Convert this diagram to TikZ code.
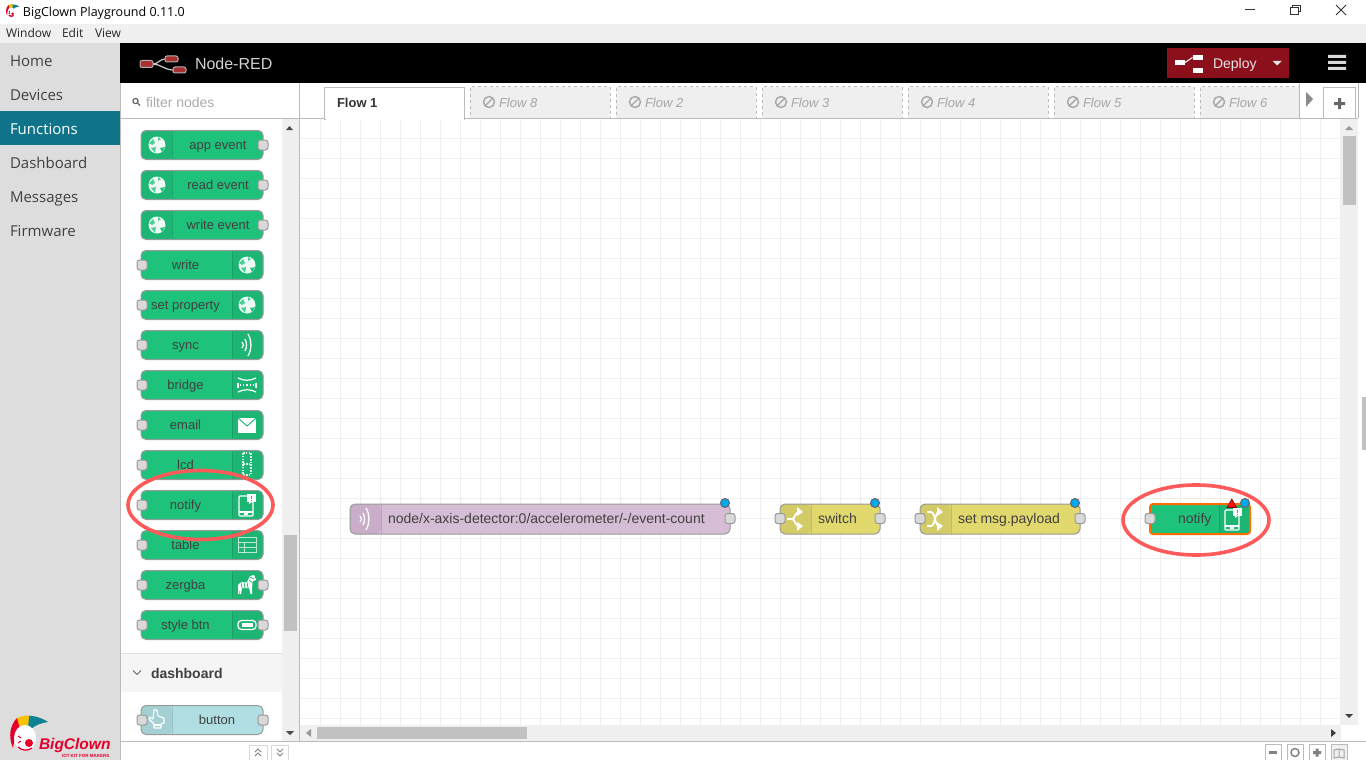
\documentclass[tikz,border=0pt]{standalone}
\usepackage{fontspec}
\setmainfont{Liberation Sans}
\newfontfamily\uifont{Open Sans}
\usetikzlibrary{shapes.geometric}
\definecolor{sidegray}{HTML}{DDDDDD}
\definecolor{sideteal}{HTML}{0F7489}
\definecolor{barlight}{HTML}{F0F0F0}
\definecolor{gridline}{HTML}{EFEFEF}
\definecolor{rulegray}{HTML}{BBBBBB}
\definecolor{thumbgray}{HTML}{C1C1C1}
\definecolor{nodeedge}{HTML}{999999}
\definecolor{portfill}{HTML}{D9D9D9}
\definecolor{green}{HTML}{1FC27B}
\definecolor{greentint}{HTML}{1DB574}
\definecolor{mauve}{HTML}{D6BDD6}
\definecolor{mauvetint}{HTML}{C9ADC9}
\definecolor{sand}{HTML}{E2D96E}
\definecolor{sandtint}{HTML}{D3CB67}
\definecolor{skyblue}{HTML}{B0DFE3}
\definecolor{skytint}{HTML}{A4D0D4}
\definecolor{deployred}{HTML}{8C101C}
\definecolor{logored}{HTML}{A83232}
\definecolor{markred}{HTML}{FF5A5A}
\definecolor{dotblue}{HTML}{00A8F0}
\definecolor{clownred}{HTML}{E4002B}
\definecolor{clownteal}{HTML}{0E8292}
\definecolor{clownyellow}{HTML}{F9C200}
\begin{document}
\begin{tikzpicture}[x=1pt,y=-1pt,line width=1pt,every node/.style={outer sep=0pt}]
	\tikzset{sidelabel/.style = {anchor=west,inner sep=0pt,text=black!75,text height=13pt,text depth=1pt,font=\uifont\fontsize{15}{18}\selectfont}}
	\tikzset{menulabel/.style = {anchor=west,inner sep=0pt,text=black!85,text height=11pt,text depth=1.6pt,font=\uifont\fontsize{12}{14}\selectfont}}
	\tikzset{paltext/.style = {inner sep=0pt,text=black!75,text height=10pt,text depth=1pt,font=\fontsize{13}{15}\selectfont}}
	\tikzset{flowtext/.style = {anchor=west,inner sep=0pt,text=black!75,text height=11pt,text depth=1pt,font=\fontsize{14}{16}\selectfont}}
	\tikzset{tabtext/.style = {anchor=west,inner sep=0pt,text=black!35,text height=12.4pt,text depth=1pt,font=\itshape\fontsize{13}{15}\selectfont}}
	\tikzset{blockbox/.style = {draw=nodeedge,rounded corners=5pt,minimum height=29pt,inner sep=0pt}}
	\tikzset{palbox/.style = {blockbox,fill=green,minimum width=122pt}}
	\tikzset{iconright/.style = {path picture={
		\fill[#1] ([xshift=-31pt]path picture bounding box.north east) rectangle (path picture bounding box.south east);
		\draw[black,line width=.6pt,opacity=.12] ([xshift=-31pt]path picture bounding box.north east) -- ([xshift=-31pt]path picture bounding box.south east);}}}
	\tikzset{iconleft/.style = {path picture={
		\fill[#1] (path picture bounding box.north west) rectangle ([xshift=31pt]path picture bounding box.south west);
		\draw[black,line width=.6pt,opacity=.12] ([xshift=31pt]path picture bounding box.north west) -- ([xshift=31pt]path picture bounding box.south west);}}}
	\tikzset{port/.style = {draw=nodeedge,fill=portfill,rounded corners=2.5pt,minimum size=10pt,inner sep=0pt}}
	\tikzset{statusdot/.style = {circle,draw=black!60,fill=dotblue,minimum size=9pt,inner sep=0pt}}
	\tikzset{flowtab/.style = {draw=rulegray,dashed,fill=gridline,anchor=north west,minimum width=140pt,minimum height=31pt,inner sep=0pt}}
	\tikzset{ctrlbtn/.style = {draw=rulegray,fill=white,anchor=north west,minimum width=16pt,minimum height=16pt,inner sep=0pt}}
	\tikzset{redmark/.style = {ellipse,draw=markred,line width=3.6pt,inner sep=0pt}}
	\tikzset{earth/.pic = {
		\fill[white,opacity=.92] (0,0) circle[radius=8.5pt];
		\fill[green!80!white] (-8,-2) -- (-4,-6) -- (-2,-2) -- (-5,0) -- cycle;
		\fill[green!80!white] (-6,3) -- (-1,2) -- (-2,8) -- cycle;
		\fill[green] (3,3) -- (8,2) -- (5,7) -- cycle;
		\fill[green!80!white] (1,-8) -- (4,-6) -- (1,-4) -- cycle;}}
	\tikzset{waves/.pic = {
		\draw[white,line width=1.3pt] (-5,-3) .. controls (-3,-1) and (-3,1) .. (-5,3);
		\draw[white,line width=1.3pt] (-2,-6) .. controls (0,-2) and (0,2) .. (-2,6);
		\draw[white,line width=1.3pt] (1,-11) .. controls (5,-4) and (5,4) .. (1,11);}}
	\tikzset{span/.pic = {
		\draw[white,line width=1.2pt] (-9,-7) .. controls (-3,-4) and (3,-4) .. (9,-7);
		\draw[white,line width=1.2pt] (-9,7) .. controls (-3,4) and (3,4) .. (9,7);
		\draw[white,dotted,line width=1.2pt] (-7,0) -- (7,0);
		\draw[white,line width=1.4pt] (-9,-2.5) -- (-9,2.5) (9,-2.5) -- (9,2.5);}}
	\tikzset{letter/.pic = {
		\fill[white] (-9,-7.5) rectangle (9,7.5);
		\draw[green,line width=1pt] (-9,-7) -- (0,1) -- (9,-7);}}
	\tikzset{segments/.pic = {
		\draw[white,dash pattern=on 1.6pt off 1.2pt,line width=1.1pt,opacity=.85] (-4,-12) rectangle (4,-1);
		\draw[white,dash pattern=on 1.6pt off 1.2pt,line width=1.1pt,opacity=.85] (-4,-1) -- (-4,10) -- (4,10) -- (4,-1);}}
	\tikzset{phone/.pic = {
		\draw[white,line width=1.1pt,rounded corners=1pt] (-8,-9) rectangle (6,11);
		\draw[white,line width=1.1pt] (-8,7) -- (6,7) (-3,9) -- (1,9);
		\fill[white] (0,-11) rectangle (9,-3);
		\fill[white] (2,-3) -- (5,-3) -- (2,-1) -- cycle;
		\draw[green,line width=1pt] (4.5,-9.5) -- (4.5,-6) (4.5,-5.2) -- (4.5,-4.4);}}
	\tikzset{sheet/.pic = {
		\draw[white,line width=1pt,opacity=.7] (-9,-7.5) rectangle (9,7.5);
		\draw[white,line width=1pt,opacity=.7] (-9,-3) -- (9,-3) (-9,2) -- (9,2) (-3,-3) -- (-3,7.5);}}
	\tikzset{zebra/.pic = {
		\fill[white] (-9,9) -- (-9,0) -- (-6,-3) -- (0,-3) -- (3,-9) -- (7,-10) -- (9,-5) -- (6,-4) -- (5,2) -- (5,9) -- (3.5,9) -- (2,3) -- (-5,3) -- (-6,9) -- (-7,9) -- (-7.5,3) -- (-8,9) -- cycle;
		\draw[green,line width=.8pt] (-6,-3) -- (-5,3) (-3,-3) -- (-2,3) (0,-3) -- (1,3) (2,-5) -- (6,-2) (3,-8) -- (7,-6);}}
	\tikzset{pill/.pic = {
		\draw[white,line width=1.2pt,rounded corners=3.5pt] (-9,-4.5) rectangle (9,4.5);
		\fill[white] (-5.5,-1.7) rectangle (5.5,1.7);}}
	\tikzset{hand/.pic = {
		\draw[white,line width=1.1pt,line join=round] (-3,8) -- (-3,4) -- (-8,-1) -- (-7,-3) -- (-4,-1) -- (-3,-10) -- (0,-10) -- (1,-4) -- (7,-2) -- (7,3) -- (4,4) -- (4,8) -- cycle;
		\draw[white,line width=1.1pt] (-3,5) -- (4,5);}}
	\tikzset{branch/.pic = {
		\draw[white,line width=1.8pt] (-8,0) -- (-3,0) .. controls (0,0) and (0,-7) .. (4,-7);
		\draw[white,line width=1.8pt] (-3,0) .. controls (0,0) and (0,7) .. (4,7);
		\fill[white] (2,-12) -- (8,-7) -- (2,-3) -- cycle;
		\fill[white] (2,3) -- (8,7) -- (2,12) -- cycle;}}
	\tikzset{shuffle/.pic = {
		\draw[white,line width=1.8pt] (-8,-7) -- (-4,-7) .. controls (0,-7) and (0,7) .. (4,7);
		\draw[white,line width=1.8pt] (-8,7) -- (-4,7) .. controls (0,7) and (0,-7) .. (4,-7);
		\fill[white] (2,-12) -- (8,-7) -- (2,-3) -- cycle;
		\fill[white] (2,3) -- (8,7) -- (2,12) -- cycle;}}
	\tikzset{nope/.pic = {
		\draw[black!35,line width=1.4pt] (0,0) circle[radius=5.5pt];
		\draw[black!35,line width=1.4pt] (-3.8,3.8) -- (3.8,-3.8);}}
	\tikzset{clown/.pic = {
		\fill[clownteal] (15,1) .. controls (24,0) and (32,3) .. (38,7) .. controls (31,8) and (25,10) .. (20,15) -- cycle;
		\fill[clownyellow] (6,4) .. controls (10,1) and (15,0) .. (19,1) -- (18,13) -- (9,14) -- cycle;
		\fill[clownred] (3,33) .. controls (-2,22) and (0,10) .. (7,3) -- (10,14) -- (5,22) -- cycle;
		\fill[white] (15,23) ellipse[x radius=11pt,y radius=13pt];
		\fill[clownred] (19,28) circle[radius=4pt];
		\draw[clownred,line width=1pt] (8,21) -- (11,23) (8,28) -- (11,26);
		\draw[clownred,line width=1.3pt] (8,32) .. controls (12,36) and (18,36) .. (22,33);}}

	\useasboundingbox (0,0) rectangle (1366,760);
	% window frame
	\fill[white] (0,0) rectangle (1366,760);
	\fill[barlight] (0,24) rectangle (1366,43);
	\pic[scale=.35] at (6,4) {clown};
	\node[menulabel,font=\uifont\fontsize{12.5}{15}\selectfont,text=black] (apptitle) at (23,12) {BigClown Playground 0.11.0};
	\node[menulabel] (menuwindow) at (6,33) {Window};
	\node[menulabel] (menuedit) at (62,33) {Edit};
	\node[menulabel] (menuview) at (95,33) {View};
	\draw[black!80] (1245,10) -- (1255,10);
	\draw[black!80] (1290.5,8) rectangle (1298.5,14.5) (1292.5,8) -- (1292.5,5.5) -- (1300,5.5) -- (1300,12) -- (1298.5,12);
	\draw[black!80] (1336,5) -- (1346,15) (1346,5) -- (1336,15);

	% left menu
	\fill[sidegray] (0,43) rectangle (120,760);
	\draw[rulegray] (120.5,83) -- (120.5,760);
	\fill[sideteal] (0,111) rectangle (120,145);
	\node[sidelabel] (home) at (10,60.5) {Home};
	\node[sidelabel] (devices) at (10,94.5) {Devices};
	\node[sidelabel,text=white] (functions) at (10,128.5) {Functions};
	\node[sidelabel] (dashboard) at (10,162.5) {Dashboard};
	\node[sidelabel] (messages) at (10,196.5) {Messages};
	\node[sidelabel] (firmware) at (10,230.5) {Firmware};
	\pic at (10,715) {clown};
	\node[anchor=west,inner sep=0pt,text=clownred,font=\bfseries\itshape\fontsize{15.5}{18}\selectfont] (logotext) at (39,745) {BigClown};
	\node[anchor=west,inner sep=0pt,text=clownred,font=\bfseries\fontsize{4.5}{5}\selectfont] (logosub) at (62,755.5) {IOT KIT FOR MAKERS};

	% header
	\fill[black] (120,43) rectangle (1366,83);
	\draw[white!80!black,line width=1.2pt] (153,64) .. controls (158,64) and (160,59) .. (165,59);
	\draw[white!80!black,line width=1.2pt] (153,64) .. controls (160,64) and (165,70) .. (173,70);
	\node[draw=white!70!black,fill=logored,rounded corners=2pt,minimum width=13pt,minimum height=7pt,inner sep=0pt] (logoa) at (146.5,64) {};
	\node[draw=white!70!black,fill=logored,rounded corners=2pt,minimum width=13pt,minimum height=6pt,inner sep=0pt] (logob) at (171.5,59) {};
	\node[draw=white!70!black,fill=logored,rounded corners=2pt,minimum width=13pt,minimum height=6pt,inner sep=0pt] (logoc) at (179.5,70) {};
	\node[anchor=west,inner sep=0pt,text=white!82!black,text height=13pt,text depth=1pt,font=\fontsize{16}{18}\selectfont] (nodered) at (195,64) {Node-RED};
	\node[fill=deployred,anchor=north west,minimum width=122pt,minimum height=30pt,inner sep=0pt] (deploybtn) at (1167,48) {};
	\node[fill=white,minimum width=10pt,minimum height=5pt,inner sep=0pt] (depa) at (1180,62.5) {};
	\node[fill=white,minimum width=10pt,minimum height=5pt,inner sep=0pt] (depb) at (1197.5,57.5) {};
	\node[fill=white,minimum width=10pt,minimum height=5pt,inner sep=0pt] (depc) at (1197.5,70.5) {};
	\draw[white] (depa.east) -- (depb.west);
	\node[anchor=west,inner sep=0pt,text=white!90!black,text height=11.6pt,text depth=1pt,font=\fontsize{14}{16}\selectfont] (deploy) at (1213,63) {Deploy};
	\fill[white!90!black] (1272.5,61) -- (1281.5,61) -- (1277,65.5) -- cycle;
	\fill[white!85!black] (1328,55) rectangle (1346,58) (1328,61) rectangle (1346,64) (1328,67) rectangle (1346,70);

	% palette
	\draw[rulegray] (121,118.5) -- (300,118.5);
	\draw[rulegray] (299.5,83) -- (299.5,741);
	\draw[black!60,line width=1.2pt] (135.5,101) circle[radius=2.6pt] (137.5,103) -- (140,105.5);
	\node[anchor=west,inner sep=0pt,text=black!33,text height=12.4pt,text depth=1pt,font=\fontsize{14}{16}\selectfont] (filter) at (146,102) {filter nodes};
	\fill[barlight] (282,119) rectangle (299,741);
	\fill[thumbgray] (284,535) rectangle (297,631);
	\fill[black!70] (286,130) -- (293,130) -- (289.5,126) -- cycle;
	\fill[black!70] (286,731) -- (294,731) -- (290,735) -- cycle;
	\foreach \name/\ypos/\txt in {appevent/145/app event,readevent/185/read event,writeevent/225/write event} {
		\node[palbox,iconleft=greentint] (\name) at (202,\ypos) {};
		\node[paltext] (\name text) at (218,\ypos) {\txt};
		\pic at (157,\ypos) {earth};
		\node[port] (\name out) at (263,\ypos) {};
	}
	\foreach \name/\ypos/\txt/\icn in {write/265/write/earth,setprop/305/set property/earth,sync/345/sync/waves,bridge/385/bridge/span,email/425/email/letter,lcd/465/lcd/segments,notifypal/505/notify/phone,tablepal/545/table/sheet} {
		\node[palbox,iconright=greentint] (\name) at (202,\ypos) {};
		\node[paltext] (\name text) at (185.5,\ypos) {\txt};
		\pic at (247,\ypos) {\icn};
		\node[port] (\name in) at (142,\ypos) {};
	}
	\foreach \name/\ypos/\txt/\icn in {zergba/585/zergba/zebra,stylebtn/625/style btn/pill} {
		\node[palbox,iconright=greentint] (\name) at (202,\ypos) {};
		\node[paltext] (\name text) at (185.5,\ypos) {\txt};
		\pic at (247,\ypos) {\icn};
		\node[port] (\name in) at (142,\ypos) {};
		\node[port] (\name out) at (263,\ypos) {};
	}
	\fill[white!96!black] (121,654) rectangle (282,692);
	\draw[white!88!black] (121,653.5) -- (282,653.5);
	\draw[black!60] (133,670.5) -- (137,674.5) -- (141,670.5);
	\node[anchor=west,inner sep=0pt,text=black!75,text height=12pt,text depth=1.4pt,font=\bfseries\fontsize{14}{16}\selectfont] (dashgroup) at (151,673) {dashboard};
	\node[palbox,fill=skyblue,iconleft=skytint] (buttonpal) at (202,720) {};
	\node[paltext] (buttonpal text) at (217,720) {button};
	\pic at (157,720) {hand};
	\node[port] (buttonpal in) at (142,720) {};
	\node[port] (buttonpal out) at (263,720) {};
	\draw[rulegray] (121,741.5) -- (1366,741.5);
	\node[ctrlbtn,minimum width=17.5pt,minimum height=16pt,draw=white!85!black] (collapse) at (249.5,745.5) {};
	\node[ctrlbtn,minimum width=16.5pt,minimum height=16pt,draw=white!85!black] (expand) at (271.5,745.5) {};
	\draw[black!50] (255,752) -- (258,749) -- (261,752) (255,756) -- (258,753) -- (261,756);
	\draw[black!50] (277,749) -- (280,752) -- (283,749) (277,753) -- (280,756) -- (283,753);

	% workspace grid
	\foreach \xpos in {320,340,...,1340} {\draw[gridline] (\xpos+.5,119) -- (\xpos+.5,725);}
	\foreach \ypos in {138,158,...,718} {\draw[gridline] (300,\ypos+.5) -- (1341,\ypos+.5);}

	% tabs
	\foreach \tabx/\flowno in {470/8,616/2,762/3,908/4,1054/5,1200/6} {
		\node[flowtab] (flow\flowno) at (\tabx,87) {};
		\pic at (\tabx+19,102) {nope};
		\node[tabtext] (flow\flowno text) at (\tabx+29,102) {Flow \flowno};
	}
	\fill[white] (1299.5,84) rectangle (1358,118);
	\draw[rulegray] (300,118.5) -- (1358,118.5);
	\draw[rulegray] (1299.5,83) -- (1299.5,118);
	\draw[rulegray] (1358.5,83) -- (1358.5,118);
	\fill[black!45] (1306,92) -- (1313,99) -- (1306,107) -- cycle;
	\node[draw=rulegray,fill=white,anchor=north west,minimum width=32pt,minimum height=31pt,inner sep=0pt] (addtab) at (1323.5,87.5) {};
	\fill[black!60] (1334,102) rectangle (1345,105) (1338,98) rectangle (1341,109);
	\node[draw=rulegray,fill=white,anchor=north west,minimum width=140pt,minimum height=32pt,inner sep=0pt] (flow1) at (324.5,87.5) {};
	\fill[white] (325.5,117) rectangle (463.5,120);
	\node[anchor=west,inner sep=0pt,text=black!80,text height=12.4pt,text depth=1pt,font=\bfseries\fontsize{13}{15}\selectfont] (flow1text) at (337,102) {Flow 1};

	% scrollbars
	\fill[barlight] (1341,119) rectangle (1358,725);
	\fill[thumbgray] (1343,136) rectangle (1356,205);
	\fill[black!40] (1345,130) -- (1353,130) -- (1349,126) -- cycle;
	\fill[black!75] (1345,714) -- (1353,714) -- (1349,718) -- cycle;
	\fill[barlight] (300,725) rectangle (1341,741);
	\fill[thumbgray] (317,727) rectangle (527,739);
	\fill[black!40] (311,729) -- (311,737) -- (306,733) -- cycle;
	\fill[black!75] (1331,729) -- (1331,737) -- (1336,733) -- cycle;
	\fill[thumbgray] (1362,397) rectangle (1366,450);
	\node[ctrlbtn] (zoomout) at (1265,744.5) {};
	\node[ctrlbtn] (zoomreset) at (1287,744.5) {};
	\node[ctrlbtn] (zoomin) at (1309,744.5) {};
	\node[ctrlbtn,fill=barlight] (minimap) at (1331,744.5) {};
	\fill[black!50] (1269,751) rectangle (1277,754);
	\draw[black!50,line width=1.4pt] (1295,752.5) circle[radius=4pt];
	\fill[black!50] (1313,751) rectangle (1321,754) (1315.5,748.5) rectangle (1318.5,756.5);
	\draw[black!35] (1334,750) -- (1339,749) -- (1344,750) -- (1344,758) -- (1339,757) -- (1334,758) -- cycle (1339,749) -- (1339,757);

	% flow nodes
	\node[blockbox,fill=mauve,iconleft=mauvetint,minimum width=380pt,minimum height=30pt,anchor=west] (eventcount) at (350,519) {};
	\pic at (365,519) {waves};
	\node[flowtext] (eventcount text) at (388,518) {node/x-axis-detector:0/accelerometer/-/event-count};
	\node[port] (eventcount out) at (730,518.5) {};
	\node[statusdot] (eventcount dot) at (725,503) {};
	\node[blockbox,fill=sand,iconleft=sandtint,minimum width=100pt,minimum height=30pt,anchor=west] (switch) at (780,519) {};
	\pic at (795,519) {branch};
	\node[flowtext] (switch text) at (818,518) {switch};
	\node[port] (switch in) at (780,518.5) {};
	\node[port] (switch out) at (880,518.5) {};
	\node[statusdot] (switch dot) at (875,503) {};
	\node[blockbox,fill=sand,iconleft=sandtint,minimum width=160pt,minimum height=30pt,anchor=west] (setpayload) at (920,519) {};
	\pic at (935,519) {shuffle};
	\node[flowtext] (setpayload text) at (958,518) {set msg.payload};
	\node[port] (setpayload in) at (920,518.5) {};
	\node[port] (setpayload out) at (1080,518.5) {};
	\node[statusdot] (setpayload dot) at (1075,503) {};
	\node[blockbox,draw=orange!85!red,line width=2pt,fill=green,iconright=greentint,minimum width=100pt,minimum height=30pt,anchor=west,rounded corners=3pt] (notify) at (1150,519) {};
	\pic at (1233,519) {phone};
	\node[flowtext] (notify text) at (1178,518) {notify};
	\node[port] (notify in) at (1150,518.5) {};
	\fill[red!85!orange,draw=black!50!red,line width=.6pt] (1227,507.5) -- (1236.5,507.5) -- (1231.8,499) -- cycle;
	\node[statusdot] (notify dot) at (1245,503) {};

	% red marks
	\node[redmark,minimum width=145pt,minimum height=69pt] (markpal) at (200.5,505) {};
	\node[redmark,minimum width=146pt,minimum height=70pt] (markflow) at (1196,520) {};
\end{tikzpicture}
\end{document}
